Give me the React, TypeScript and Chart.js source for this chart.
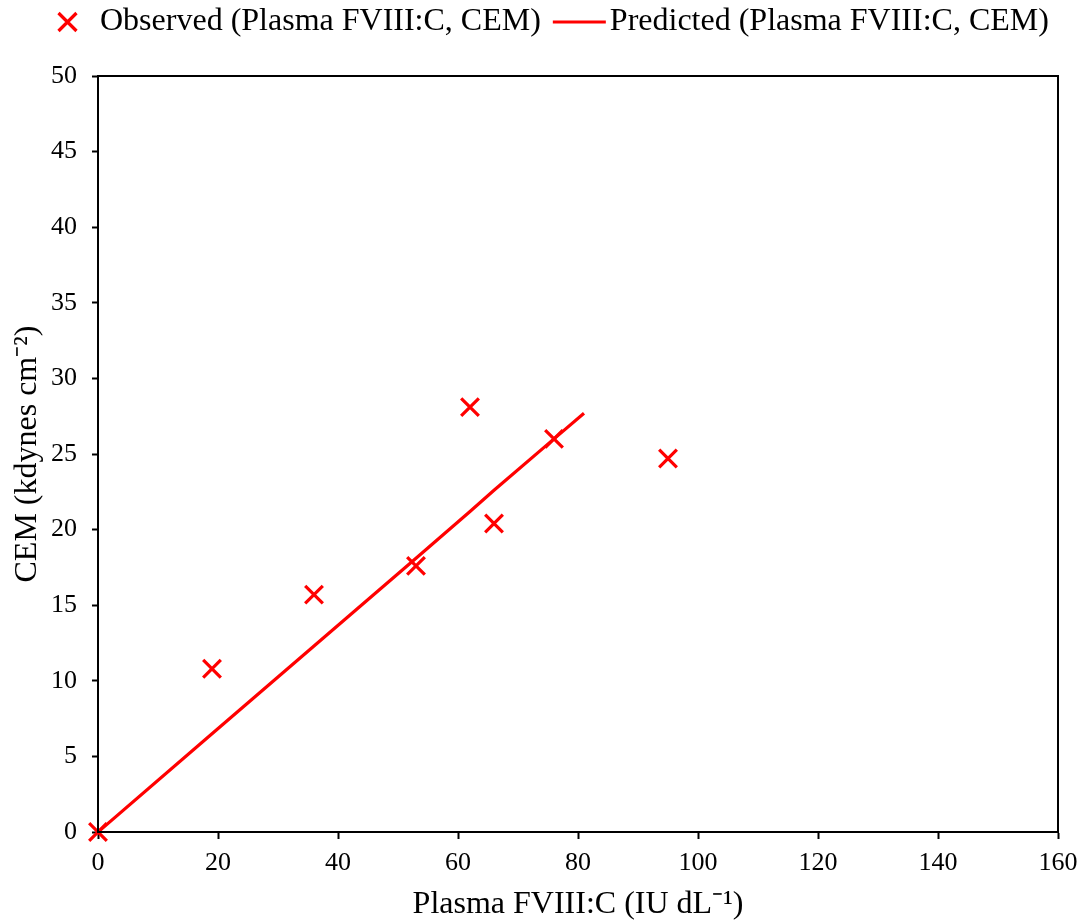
import React, { useEffect, useRef } from "react";
import { Chart, registerables } from "chart.js";

Chart.register(...registerables);

const observedX = [0, 19, 36, 53, 62, 66, 76, 95];
const observedY = [0, 10.8, 15.7, 17.6, 28.1, 20.4, 26.0, 24.7];
const predictedX = [0, 19, 36, 53, 62, 66, 76, 81];
const predictedY = [0, 6.5, 12.3, 18.1, 21.2, 22.6, 26.0, 27.7];
const xTicks = [0, 20, 40, 60, 80, 100, 120, 140, 160];
const yTicks = [0, 5, 10, 15, 20, 25, 30, 35, 40, 45, 50];
const seriesNames = ["Observed (Plasma FVIII:C, CEM)", "Predicted (Plasma FVIII:C, CEM)"];

const FONT = "'Liberation Serif', 'Times New Roman', serif";
const RED = "#ff0000";

const boxPlugin = {
  id: "box",
  afterDatasetsDraw(chart: any) {
    const { ctx, chartArea } = chart;
    ctx.save();
    ctx.strokeStyle = "#000";
    ctx.lineWidth = 2;
    ctx.strokeRect(chartArea.left, chartArea.top, chartArea.right - chartArea.left, chartArea.bottom - chartArea.top);
    ctx.restore();
  },
};

const legendPlugin = {
  id: "customLegend",
  afterDraw(chart: any) {
    const { ctx } = chart;
    const y = 22;
    ctx.save();
    ctx.font = `32px ${FONT}`;
    ctx.textBaseline = "middle";
    ctx.textAlign = "left";
    const cx = 67.5;
    const h = 9;
    ctx.strokeStyle = RED;
    ctx.lineWidth = 3.2;
    ctx.beginPath();
    ctx.moveTo(cx - h, y - h);
    ctx.lineTo(cx + h, y + h);
    ctx.moveTo(cx + h, y - h);
    ctx.lineTo(cx - h, y + h);
    ctx.stroke();
    ctx.fillStyle = "#000";
    const t1x = 100;
    ctx.fillText(seriesNames[0], t1x, y);
    const w1 = ctx.measureText(seriesNames[0]).width;
    const ls = t1x + w1 + 12;
    const le = ls + 53;
    ctx.beginPath();
    ctx.moveTo(ls, y);
    ctx.lineTo(le, y);
    ctx.stroke();
    ctx.fillText(seriesNames[1], le + 4, y);
    ctx.restore();
  },
};

export default function App() {
  const ref = useRef<HTMLCanvasElement>(null);
  useEffect(() => {
    if (!ref.current) return;
    const chart = new Chart(ref.current, {
      type: "scatter",
      data: {
        datasets: [
          {
            label: seriesNames[0],
            data: observedX.map((x, i) => ({ x, y: observedY[i] })),
            pointStyle: "crossRot",
            pointRadius: 12.5,
            pointBorderWidth: 3.2,
            borderColor: RED,
            backgroundColor: RED,
            showLine: false,
            clip: false as any,
            order: 1,
          },
          {
            label: seriesNames[1],
            data: predictedX.map((x, i) => ({ x, y: predictedY[i] })),
            showLine: true,
            pointRadius: 0,
            borderColor: RED,
            backgroundColor: RED,
            borderWidth: 3.2,
            order: 2,
          },
        ],
      },
      options: {
        animation: false,
        responsive: false,
        layout: { padding: { left: 0, right: 23, top: 76, bottom: 0 } },
        plugins: {
          tooltip: { enabled: false },
          legend: { display: false },
        },
        scales: {
          x: {
            type: "linear",
            min: 0,
            max: 160,
            afterBuildTicks(scale: any) {
              scale.ticks = xTicks.map((v) => ({ value: v }));
            },
            afterFit(scale: any) {
              scale.height = 90;
              scale.paddingLeft = 0;
              scale.paddingRight = 0;
            },
            grid: { display: true, drawOnChartArea: false, tickLength: 7, tickColor: "#000", tickWidth: 2 },
            border: { color: "#000", width: 2 },
            ticks: { font: { family: FONT, size: 26 }, color: "#000", padding: 9, maxRotation: 0 },
            title: {
              display: true,
              text: "Plasma FVIII:C (IU dL\u207B\u00B9)",
              font: { family: FONT, size: 32, lineHeight: 1.1 },
              color: "#000",
              padding: { top: 0, bottom: 0 },
            },
          },
          y: {
            type: "linear",
            min: 0,
            max: 50,
            afterBuildTicks(scale: any) {
              scale.ticks = yTicks.map((v) => ({ value: v }));
            },
            afterFit(scale: any) {
              scale.width = 98;
              scale.paddingTop = 0;
              scale.paddingBottom = 0;
            },
            grid: { display: true, drawOnChartArea: false, tickLength: 6, tickColor: "#000", tickWidth: 2 },
            border: { color: "#000", width: 2 },
            ticks: { font: { family: FONT, size: 26 }, color: "#000", padding: 15 },
            title: {
              display: true,
              text: "CEM (kdynes cm\u207B\u00B2)",
              font: { family: FONT, size: 32, lineHeight: 1.1 },
              color: "#000",
              padding: { top: 10, bottom: 0 },
            },
          },
        },
      },
      plugins: [boxPlugin, legendPlugin],
    } as any);
    return () => chart.destroy();
  }, []);
  return (
    <div style={{ position: "fixed", left: 0, top: 0, width: 1081, height: 922, background: "#fff" }}>
      <canvas ref={ref} width={1081} height={922} />
    </div>
  );
}
